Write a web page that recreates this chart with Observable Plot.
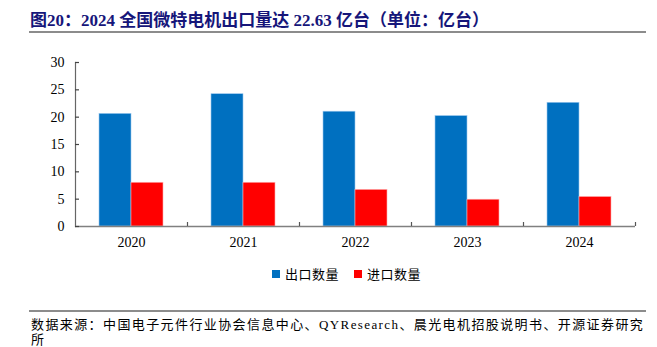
<!DOCTYPE html>
<html>
<head>
<meta charset="utf-8">
<script src="https://cdn.jsdelivr.net/npm/d3@7"></script>
<script src="https://cdn.jsdelivr.net/npm/@observablehq/plot@0.6"></script>
<style>
  html, body { margin: 0; padding: 0; background: #fff; }
  #wrap { position: relative; width: 657px; height: 347px; overflow: hidden; background: #fff; }
  #title { position: absolute; left: 30px; top: 6px; white-space: nowrap;
    font-family: "Liberation Serif", "Noto Sans CJK SC", serif; font-weight: bold; font-size: 17px; color: #16167a; }
  .hr { position: absolute; left: 29px; width: 617px; height: 2px; background: #8c8c8c; }
  #chart { position: absolute; left: 0; top: 45px; }
  #legend { position: absolute; top: 264px; left: 0; width: 657px; height: 20px;
    font-family: "Noto Sans CJK SC", sans-serif; font-size: 13px; color: #000; }
  .sw { position: absolute; top: 6px; width: 8px; height: 8px; }
  .lt { position: absolute; top: 0px; line-height: 20px; white-space: nowrap; letter-spacing: 0.5px; }
  #caption { position: absolute; left: 31px; top: 317px; font-family: "Liberation Serif", "Noto Sans CJK SC", serif;
    font-size: 13px; letter-spacing: 1.4px; line-height: 15px; color: #000; white-space: nowrap; }
</style>
</head>
<body>
<div id="wrap">
  <div id="title"></div>
  <div class="hr" style="top:31px"></div>
  <div id="chart"></div>
  <div id="legend"></div>
  <div class="hr" style="top:310px"></div>
  <div id="caption"></div>
</div>
<script>
const titleText = "图20：2024 全国微特电机出口量达 22.63 亿台（单位：亿台）";
const captionLines = ["数据来源：中国电子元件行业协会信息中心、QYResearch、晨光电机招股说明书、开源证券研究", "所"];
const years = ["2020", "2021", "2022", "2023", "2024"];
const seriesNames = ["出口数量", "进口数量"];
const seriesColors = ["#0070C0", "#FF0000"];
const exportValues = [20.6, 24.2, 21.0, 20.2, 22.63];
const importValues = [8.0, 8.0, 6.7, 4.9, 5.4];
const yTicks = [0, 5, 10, 15, 20, 25, 30];

document.getElementById("title").textContent = titleText;
document.getElementById("caption").innerHTML = captionLines.join("<br>");

const exportRows = years.map((year, i) => ({year, value: exportValues[i], series: seriesNames[0]}));
const importRows = years.map((year, i) => ({year, value: importValues[i], series: seriesNames[1]}));

const W = 657, mL = 75, mR = 22;
const plotW = W - mL - mR;
const band = plotW / years.length;
const barW = 32;
const outer = (band - 2 * barW) / 2;
const tickLen = 4;

const plot = Plot.plot({
  width: W,
  height: 215,
  marginTop: 17,
  marginBottom: 34,
  marginLeft: mL,
  marginRight: mR,
  style: {fontFamily: "'Liberation Serif', 'Times New Roman', serif", fontSize: "14px", color: "#000", background: "transparent"},
  x: {domain: years, padding: 0},
  y: {domain: [0, 30]},
  marks: [
    Plot.barY(exportRows, {x: "year", y: "value", fill: seriesColors[0], insetLeft: outer, insetRight: outer + barW, stroke: "#9cc8ee", strokeWidth: 0.6}),
    Plot.barY(importRows, {x: "year", y: "value", fill: seriesColors[1], insetLeft: outer + barW, insetRight: outer, stroke: "#ffb0b0", strokeWidth: 0.6}),
    Plot.frame({anchor: "left", stroke: "#666", strokeWidth: 1.2}),
    Plot.ruleY([0], {stroke: "#808080", strokeWidth: 1.5}),
    Plot.ruleY(yTicks, {y: d => d, insetRight: plotW - tickLen, stroke: "#444", strokeWidth: 1.2}),
    Plot.ruleX(years, {x: d => d, y1: 0, y2: 0, insetTop: -tickLen, dx: band / 2, stroke: "#555", strokeWidth: 1.2}),
    Plot.axisY({ticks: yTicks, tickSize: 0, tickPadding: 11, label: null, tickFormat: d => String(d)}),
    Plot.axisX({tickSize: 0, tickPadding: 11, label: null})
  ]
});
document.getElementById("chart").appendChild(plot);

const legend = document.getElementById("legend");
const legendPos = [[272, 285], [354, 367]];
seriesNames.forEach((name, i) => {
  const sw = document.createElement("div");
  sw.className = "sw";
  sw.style.left = legendPos[i][0] + "px";
  sw.style.background = seriesColors[i];
  legend.appendChild(sw);
  const t = document.createElement("div");
  t.className = "lt";
  t.style.left = legendPos[i][1] + "px";
  t.textContent = name;
  legend.appendChild(t);
});
</script>
</body>
</html>
